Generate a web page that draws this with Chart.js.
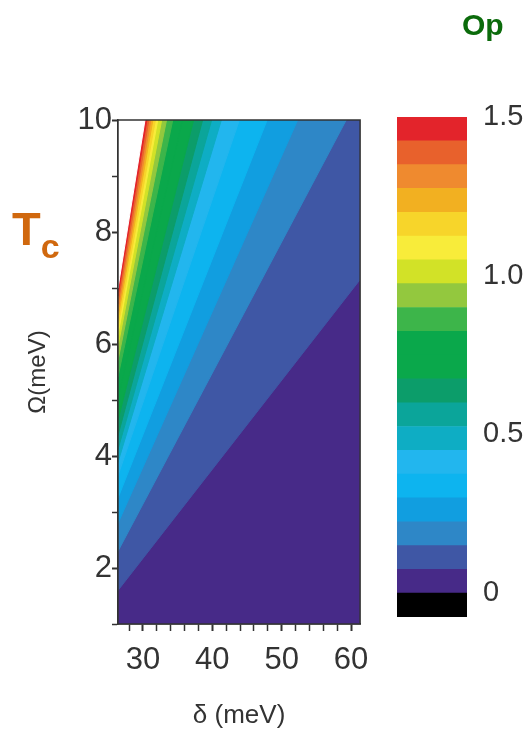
<!DOCTYPE html>
<html lang="en">
<head>
    <meta charset="UTF-8">
    <title>Tc contour map</title>
    <script src="https://cdn.jsdelivr.net/npm/chart.js@4.4.1/dist/chart.umd.min.js"></script>
    <style>
        body { margin: 0; width: 525px; height: 740px; overflow: hidden; background: #fff; position: relative; font-family: 'Liberation Sans', Arial, sans-serif; }
        #mainBox { position: absolute; left: 0; top: 0; width: 380px; height: 740px; }
        #barBox { position: absolute; left: 380px; top: 0; width: 145px; height: 740px; }
        .tc { position: absolute; left: 12px; top: 205px; color: #d0680e; font-weight: bold; font-size: 47px; line-height: 47px; }
        .tc span { font-size: 34px; position: relative; top: 13px; }
        .op { position: absolute; left: 462px; top: 10px; color: #0b6b0b; font-weight: bold; font-size: 30px; line-height: 30px; white-space: nowrap; }
    </style>
</head>
<body>
    <div id="mainBox"><canvas id="mapChart"></canvas></div>
    <div id="barBox"><canvas id="barChart"></canvas></div>
    <div class="tc">T<span>c</span></div>
    <div class="op">Op</div>

    <script>
        // axis ranges (meV)
        const deltaMin = 26.4, deltaMax = 61.3;
        const omegaMin = 1, omegaMax = 10;

        // contour lines, lowest level first: each is [x points], [y points]
        const contourLevels = [0.075, 0.15, 0.225, 0.3, 0.375, 0.45, 0.525, 0.6, 0.675, 0.75,
                               0.825, 0.9, 0.975, 1.05, 1.125, 1.2, 1.275, 1.35, 1.425, 1.5];
        const contourX = [
            [26.4, 61.3], [26.4, 59.3], [26.4, 52.3], [26.4, 47.9], [26.4, 43.9],
            [26.4, 41.3], [26.4, 39.9], [26.4, 38.6], [26.4, 37.3], [26.4, 35.7],
            [26.4, 34.3], [26.4, 33.4], [26.4, 32.7], [26.4, 32.14], [26.4, 31.8],
            [26.4, 31.43], [26.4, 31.14], [26.4, 30.86], [26.4, 30.57], [26.4, 30.29]
        ];
        const contourY = [
            [1.6, 7.15], [2.3, 10], [2.8, 10], [3.25, 10], [3.65, 10],
            [3.89, 10], [4.12, 10], [4.37, 10], [4.64, 10], [5.03, 10],
            [5.42, 10], [5.71, 10], [5.96, 10], [6.17, 10], [6.31, 10],
            [6.46, 10], [6.59, 10], [6.72, 10], [6.86, 10], [7.0, 10]
        ];

        // colour scale, bottom to top (first band is below zero)
        const bandEdges = [-0.075, 0, 0.075, 0.15, 0.225, 0.3, 0.375, 0.45, 0.525, 0.6, 0.675,
                           0.75, 0.825, 0.9, 0.975, 1.05, 1.125, 1.2, 1.275, 1.35, 1.425, 1.5];
        const bandColors = ['#000000', '#472a88', '#3f57a5', '#2e87c7', '#119ee0', '#0db4ef',
                            '#22b6ee', '#0eadc4', '#0ba59a', '#0c9d6a', '#0aa84b', '#0aa84b',
                            '#3db54a', '#93c83e', '#d2e227', '#f8ec3a', '#f7d52a', '#f2b021',
                            '#ef8a2f', '#e8612c', '#e3242b'];
        const colorTicks = [0, 0.5, 1.0, 1.5];
        const aboveTopColor = '#ffffff';

        function colorFor(level) {
            // colour of the band just above a contour level
            const i = bandEdges.indexOf(level);
            return i >= 0 && i < bandColors.length ? bandColors[i] : aboveTopColor;
        }

        // filled regions: whole plot first, then "value above level" polygons
        const regions = [{
            label: 'base',
            data: [{x: deltaMin, y: omegaMin}, {x: deltaMax, y: omegaMin}, {x: deltaMax, y: omegaMax}, {x: deltaMin, y: omegaMax}, {x: deltaMin, y: omegaMin}],
            color: bandColors[1]
        }];
        contourLevels.forEach((lvl, k) => {
            const pts = contourX[k].map((x, j) => ({x: x, y: contourY[k][j]}));
            const last = pts[pts.length - 1];
            if (last.y < omegaMax) pts.push({x: deltaMax, y: omegaMax});
            pts.push({x: deltaMin, y: omegaMax});
            pts.push(pts[0]);
            regions.push({label: 'T>' + lvl, data: pts, color: colorFor(lvl)});
        });

        const frame = {
            id: 'frame',
            afterDatasetsDraw(chart) {
                const a = chart.chartArea, ctx = chart.ctx;
                ctx.save();
                ctx.strokeStyle = '#333';
                ctx.lineWidth = 1.5;
                ctx.strokeRect(a.left, a.top, a.right - a.left, a.bottom - a.top);
                ctx.restore();
            }
        };

        Chart.defaults.font.family = "'Liberation Sans', Arial, sans-serif";
        Chart.defaults.color = '#333';

        new Chart(document.getElementById('mapChart'), {
            type: 'scatter',
            data: {
                datasets: regions.map((r, i) => ({
                    label: r.label,
                    data: r.data,
                    showLine: true,
                    fill: 'shape',
                    backgroundColor: r.color,
                    borderColor: r.color,
                    borderWidth: 1,
                    pointRadius: 0,
                    tension: 0,
                    order: regions.length - i
                }))
            },
            options: {
                responsive: true,
                maintainAspectRatio: false,
                animation: false,
                layout: { padding: { left: 20, right: 18, top: 120, bottom: 5 } },
                plugins: { legend: { display: false }, tooltip: { enabled: false } },
                scales: {
                    x: {
                        type: 'linear',
                        min: deltaMin,
                        max: deltaMax,
                        afterFit: s => { s.height = 111; },
                        ticks: {
                            stepSize: 2,
                            includeBounds: false,
                            padding: 11,
                            maxRotation: 0,
                            autoSkip: false,
                            font: { size: 31 },
                            callback: v => (v % 10 === 0 ? v : '')
                        },
                        grid: {
                            drawOnChartArea: false,
                            tickLength: 7,
                            tickColor: '#333',
                            tickWidth: c => (c.tick && c.tick.value % 10 === 0 ? 2 : 1.5)
                        },
                        border: { color: '#333', width: 1.5 },
                        title: { display: true, text: 'δ (meV)', font: { size: 26 }, padding: { top: 6, bottom: 4 } }
                    },
                    y: {
                        type: 'linear',
                        min: omegaMin,
                        max: omegaMax,
                        afterFit: s => { s.width = 98; },
                        ticks: {
                            stepSize: 1,
                            includeBounds: false,
                            padding: 0,
                            autoSkip: false,
                            font: { size: 31 },
                            callback: v => (v % 2 === 0 ? v : '')
                        },
                        grid: {
                            drawOnChartArea: false,
                            tickLength: 6,
                            tickColor: '#333',
                            tickWidth: c => (c.tick && c.tick.value % 2 === 0 ? 2 : 1.5)
                        },
                        border: { color: '#333', width: 1.5 },
                        title: { display: true, text: 'Ω(meV)', font: { size: 24 }, padding: { top: 4, bottom: 4 } }
                    }
                }
            },
            plugins: [frame]
        });

        // colour bar
        new Chart(document.getElementById('barChart'), {
            type: 'bar',
            data: {
                labels: [''],
                datasets: bandColors.map((c, i) => ({
                    label: 'band' + i,
                    data: [[bandEdges[i], bandEdges[i + 1]]],
                    backgroundColor: c,
                    borderWidth: 0,
                    grouped: false,
                    barPercentage: 1,
                    categoryPercentage: 1
                }))
            },
            options: {
                responsive: true,
                maintainAspectRatio: false,
                animation: false,
                layout: { padding: { left: 17, right: 0, top: 117, bottom: 123 } },
                plugins: { legend: { display: false }, tooltip: { enabled: false } },
                scales: {
                    x: { display: false },
                    y: {
                        position: 'right',
                        min: bandEdges[0],
                        max: bandEdges[bandEdges.length - 1],
                        afterFit: s => { s.width = 58; },
                        afterBuildTicks: s => { s.ticks = colorTicks.map(v => ({value: v})); },
                        ticks: {
                            padding: 8,
                            font: { size: 29 },
                            callback: v => (v === 0 ? '0' : v.toFixed(1))
                        },
                        grid: { display: false },
                        border: { display: false }
                    }
                }
            }
        });
    </script>
</body>
</html>
